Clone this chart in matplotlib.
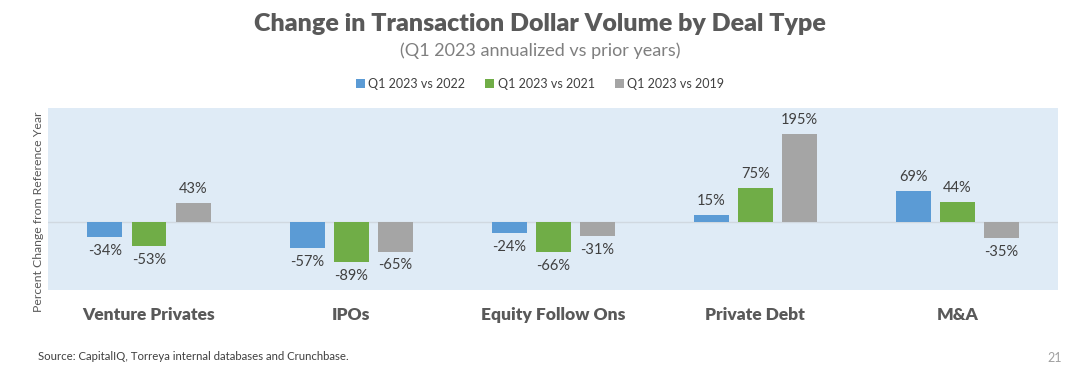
import numpy as np
import matplotlib.pyplot as plt
from matplotlib.patches import Patch

categorias = ['Venture Privates', 'IPOs', 'Equity Follow Ons', 'Private Debt', 'M&A']
series = ['Q1 2023 vs 2022', 'Q1 2023 vs 2021', 'Q1 2023 vs 2019']
vs_2022 = [-34, -57, -24, 15, 69]
vs_2021 = [-53, -89, -66, 75, 44]
vs_2019 = [43, -65, -31, 195, -35]

colores = ['#5B9BD5', '#70AD47', '#A5A5A5']

plt.rcParams['font.family'] = ['Lato', 'DejaVu Sans']

fig = plt.figure(figsize=(10.8, 3.68), dpi=100)
ax = fig.add_axes([0.0444, 0.212, 0.9356, 0.4945])
ax.set_facecolor('#DFEBF6')

x = np.arange(len(categorias))
ancho = 0.173
paso = 0.218
for i, (vals, col) in enumerate(zip([vs_2022, vs_2021, vs_2019], colores)):
    pos = x + (i - 1) * paso
    ax.bar(pos, vals, width=ancho, color=col, zorder=3)
    for p, v in zip(pos, vals):
        if v >= 0:
            ax.annotate(f'{v}%', (p, v), xytext=(0, 5), textcoords='offset points',
                        ha='center', va='bottom', fontsize=10.5, color='#404040')
        else:
            ax.annotate(f'{v}%', (p, v), xytext=(0, -5), textcoords='offset points',
                        ha='center', va='top', fontsize=10.5, color='#404040')

ax.axhline(0, color='#D0D8E0', linewidth=1, zorder=2)
ax.set_xlim(-0.5, len(categorias) - 0.5)
ax.set_ylim(-150, 252)
ax.set_yticks([])
ax.set_xticks(x)
ax.set_xticklabels(categorias, fontsize=12.5, fontweight='heavy', color='#595959')
ax.tick_params(axis='x', length=0, pad=12)
for s in ax.spines.values():
    s.set_visible(False)

ax.set_ylabel('Percent Change from Reference Year', fontsize=8.8, color='#595959')
ax.yaxis.set_label_coords(-0.004, 0.43)

fig.text(0.5, 0.935, 'Change in Transaction Dollar Volume by Deal Type', ha='center', va='center',
         fontsize=18, fontweight='heavy', color='#595959')
fig.text(0.5, 0.862, '(Q1 2023 annualized vs prior years)', ha='center', va='center',
         fontsize=13, color='#7F7F7F')

handles = [Patch(facecolor=c) for c in colores]
fig.legend(handles, series, loc='center', bbox_to_anchor=(0.5, 0.772), ncol=3, frameon=False,
           fontsize=9, handlelength=0.7, handleheight=0.7, handletextpad=0.3, columnspacing=1.6,
           labelcolor='#404040')

fig.text(0.035, 0.03, 'Source: CapitalIQ, Torreya internal databases and Crunchbase.', ha='left',
         va='center', fontsize=8.2, color='#404040')
fig.text(0.983, 0.01, '21', ha='right', va='bottom', fontsize=9, color='#A0A0A0')

fig.savefig('out.png', dpi=100)
